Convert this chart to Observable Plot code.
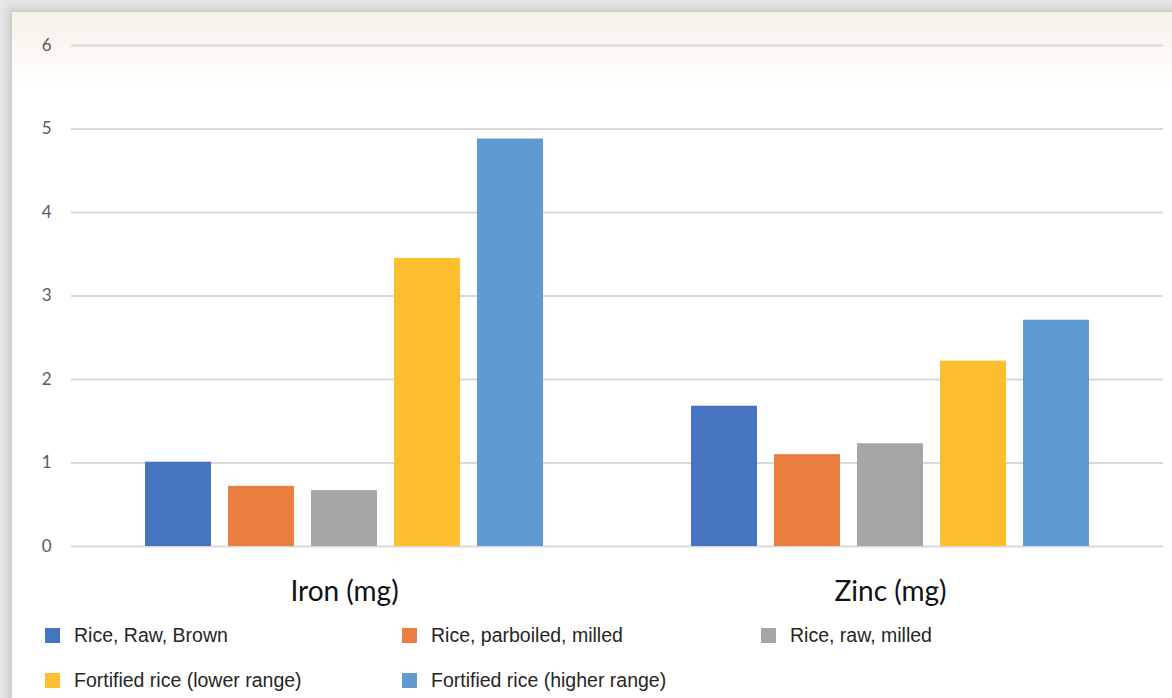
<!DOCTYPE html>
<html>
<head>
<meta charset="utf-8">
<script src="https://cdn.jsdelivr.net/npm/d3@7"></script>
<script src="https://cdn.jsdelivr.net/npm/@observablehq/plot@0.6"></script>
<style>
  html, body { margin: 0; padding: 0; background: #e6e6e6; width: 1172px; height: 698px; overflow: hidden; }
  #panel {
    position: absolute; left: 12px; top: 12px; width: 1172px; height: 700px;
    background: linear-gradient(to bottom, #f8f3ea 0px, #fbf8f2 40px, #ffffff 75px, #ffffff 100%);
    box-shadow: -4px -4px 8px rgba(0,0,0,0.12);
  }
  #chart svg { display: block; }
  #legend {
    position: absolute; left: 33px; top: 601px;
    display: grid; grid-template-columns: 357px 359px 300px; grid-auto-rows: 45px;
    font-family: "Liberation Sans", Arial, sans-serif; font-size: 19.5px; color: #262626;
  }
  .item { display: flex; align-items: center; }
  .sw { width: 15px; height: 15px; margin-right: 14px; flex: none; }
</style>
</head>
<body>
<div id="panel">
  <div id="chart"></div>
  <div id="legend"></div>
</div>
<script>
const nutrients = ["Iron (mg)", "Zinc (mg)"];
const series = ["Rice, Raw, Brown", "Rice, parboiled, milled", "Rice, raw, milled", "Fortified rice (lower range)", "Fortified rice (higher range)"];
const ironValues = [1.01, 0.72, 0.67, 3.45, 4.88];
const zincValues = [1.68, 1.10, 1.23, 2.22, 2.71];
const colors = ["#4674c1", "#ea7e3e", "#a6a6a6", "#fcbf2f", "#5f9bd2"];
const yTicks = [0, 1, 2, 3, 4, 5, 6];

const data = [];
series.forEach((s, i) => {
  data.push({nutrient: nutrients[0], series: s, value: ironValues[i]});
  data.push({nutrient: nutrients[1], series: s, value: zincValues[i]});
});

const plot = Plot.plot({
  width: 1160,
  height: 600,
  marginLeft: 59,
  marginRight: 9,
  marginTop: 33,
  marginBottom: 66,
  style: {background: "transparent", fontFamily: "Lato, 'Open Sans', sans-serif"},
  fx: {domain: nutrients, padding: 0, label: null, axis: null},
  x: {domain: series, paddingInner: 0.207, paddingOuter: 0.883, axis: null},
  y: {domain: [0, 6], ticks: yTicks, label: null, axis: null},
  color: {domain: series, range: colors},
  marks: [
    Plot.ruleY(yTicks, {stroke: "#d9d9d9", strokeWidth: 2}),
    Plot.barY(data, {fx: "nutrient", x: "series", y: "value", fill: "series"}),
    Plot.axisY({ticks: yTicks, tickFormat: d3.format("d"), tickSize: 0, tickPadding: 20, fontSize: 17, color: "#595959", label: null, facetAnchor: "left"}),
    Plot.axisFx({anchor: "bottom", tickSize: 0, tickPadding: 35, fontSize: 28, color: "#111", label: null})
  ]
});
document.getElementById("chart").appendChild(plot);

const legend = document.getElementById("legend");
series.forEach((s, i) => {
  const it = document.createElement("div");
  it.className = "item";
  const sw = document.createElement("span");
  sw.className = "sw";
  sw.style.background = colors[i];
  const t = document.createElement("span");
  t.textContent = s;
  it.appendChild(sw); it.appendChild(t);
  legend.appendChild(it);
});
</script>
</body>
</html>
